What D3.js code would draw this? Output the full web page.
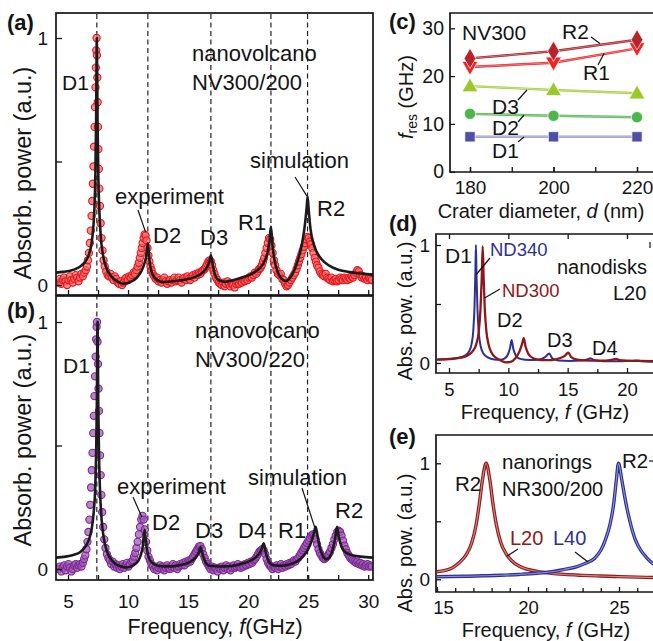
<!DOCTYPE html>
<html><head><meta charset="utf-8">
<script src="https://cdn.jsdelivr.net/npm/d3@7/dist/d3.min.js"></script>
<style>
html,body{margin:0;padding:0;background:#fff;}
svg{display:block;}
</style></head>
<body>
<svg id="fig" width="653" height="641" xmlns="http://www.w3.org/2000/svg"></svg>
<script>
// ================= DATA =================
// (a) nanovolcano NV300/200 : simulation [f GHz, absorbed power]
const simA = [[4.0,0.050],[4.6,0.053],[5.2,0.058],[5.7,0.066],[6.1,0.078],[6.45,0.095],[6.75,0.125],[6.95,0.165],[7.1,0.23],[7.2,0.31],[7.28,0.45],[7.34,0.66],[7.4,1.0],[7.46,0.66],[7.53,0.43],[7.62,0.29],[7.74,0.19],[7.9,0.125],[8.15,0.075],[8.6,0.035],[9.2,0.012],[9.6,0.005],[10.2,0.012],[10.7,0.028],[11.1,0.055],[11.35,0.085],[11.52,0.12],[11.65,0.17],[11.78,0.1],[11.95,0.055],[12.25,0.028],[12.9,0.012],[13.8,0.015],[14.8,0.022],[15.6,0.033],[16.2,0.05],[16.55,0.07],[16.76,0.092],[16.9,0.12],[17.04,0.085],[17.25,0.04],[17.6,0.018],[18.1,0.013],[18.8,0.02],[19.6,0.032],[20.3,0.045],[20.9,0.065],[21.3,0.09],[21.58,0.125],[21.76,0.17],[21.9,0.237],[22.03,0.16],[22.2,0.1],[22.45,0.055],[22.8,0.025],[23.15,0.016],[23.5,0.03],[23.85,0.06],[24.2,0.11],[24.5,0.17],[24.72,0.24],[24.87,0.31],[24.95,0.357],[25.05,0.3],[25.2,0.225],[25.4,0.175],[25.7,0.135],[26.1,0.105],[26.7,0.08],[27.5,0.062],[28.5,0.052],[29.5,0.046],[30.4,0.042]];
// (a) experiment
const expA = [[4.2,0.01],[4.32,0.025],[4.44,0.005],[4.56,0.02],[4.68,0.03],[4.8,0.015],[4.92,0.0],[5.04,0.02],[5.16,0.035],[5.28,0.02],[5.4,0.01],[5.52,0.025],[5.64,0.04],[5.76,0.03],[5.88,0.015],[6.0,0.03],[6.12,0.045],[6.24,0.035],[6.36,0.05],[6.48,0.06],[6.58,0.075],[6.66,0.1],[6.74,0.13],[6.82,0.17],[6.9,0.22],[6.96,0.28],[7.02,0.34],[7.07,0.41],[7.12,0.48],[7.17,0.56],[7.21,0.64],[7.25,0.72],[7.29,0.8],[7.32,0.88],[7.35,0.95],[7.38,1.0],[7.41,0.93],[7.44,0.84],[7.47,0.74],[7.5,0.64],[7.53,0.55],[7.57,0.47],[7.61,0.39],[7.66,0.32],[7.72,0.25],[7.79,0.19],[7.87,0.14],[7.96,0.1],[8.06,0.075],[8.18,0.055],[8.3,0.04],[8.42,0.035],[8.54,0.045],[8.66,0.03],[8.78,0.02],[8.9,0.035],[9.02,0.025],[9.14,0.01],[9.26,0.005],[9.38,0.015],[9.5,0.0],[9.62,0.01],[9.74,0.025],[9.86,0.03],[9.98,0.02],[10.1,0.035],[10.22,0.03],[10.34,0.04],[10.46,0.05],[10.58,0.045],[10.7,0.06],[10.8,0.075],[10.9,0.09],[10.98,0.11],[11.06,0.13],[11.14,0.15],[11.22,0.17],[11.3,0.19],[11.38,0.205],[11.46,0.2],[11.54,0.18],[11.62,0.15],[11.7,0.12],[11.78,0.095],[11.87,0.075],[11.96,0.06],[12.06,0.045],[12.18,0.035],[12.3,0.025],[12.42,0.03],[12.54,0.015],[12.66,0.02],[12.78,0.01],[12.9,0.02],[13.02,0.03],[13.14,0.015],[13.26,0.005],[13.38,0.015],[13.5,0.02],[13.62,0.01],[13.74,0.02],[13.86,0.03],[13.98,0.015],[14.1,0.02],[14.22,0.03],[14.34,0.02],[14.46,0.01],[14.58,0.025],[14.7,0.03],[14.82,0.02],[14.94,0.035],[15.06,0.025],[15.18,0.02],[15.3,0.035],[15.42,0.04],[15.54,0.03],[15.66,0.045],[15.78,0.04],[15.9,0.05],[16.02,0.045],[16.14,0.055],[16.26,0.06],[16.38,0.065],[16.5,0.075],[16.6,0.085],[16.7,0.095],[16.8,0.1],[16.9,0.095],[17.0,0.08],[17.1,0.06],[17.2,0.045],[17.32,0.03],[17.44,0.02],[17.56,0.01],[17.68,0.005],[17.8,0.0],[17.92,0.01],[18.04,-0.005],[18.16,0.005],[18.28,0.015],[18.4,0.005],[18.52,-0.005],[18.64,0.005],[18.76,0.0],[18.88,-0.01],[19.0,0.005],[19.12,0.01],[19.24,0.005],[19.36,0.015],[19.48,0.01],[19.6,0.02],[19.72,0.015],[19.84,0.025],[19.96,0.02],[20.08,0.03],[20.2,0.035],[20.32,0.03],[20.44,0.04],[20.56,0.05],[20.68,0.045],[20.8,0.055],[20.92,0.065],[21.04,0.07],[21.14,0.08],[21.24,0.095],[21.34,0.11],[21.44,0.13],[21.54,0.15],[21.64,0.17],[21.74,0.19],[21.84,0.185],[21.94,0.16],[22.04,0.13],[22.14,0.1],[22.24,0.08],[22.36,0.06],[22.48,0.045],[22.6,0.04],[22.72,0.045],[22.84,0.025],[22.96,0.02],[23.08,0.005],[23.2,-0.005],[23.32,0.0],[23.44,0.01],[23.56,0.02],[23.68,0.03],[23.8,0.04],[23.92,0.05],[24.04,0.065],[24.14,0.08],[24.24,0.095],[24.34,0.11],[24.44,0.125],[24.54,0.14],[24.64,0.155],[24.74,0.17],[24.84,0.185],[24.94,0.195],[25.04,0.19],[25.14,0.175],[25.24,0.165],[25.34,0.15],[25.44,0.13],[25.54,0.11],[25.64,0.095],[25.74,0.08],[25.86,0.07],[25.98,0.055],[26.1,0.045],[26.22,0.04],[26.34,0.035],[26.46,0.045],[26.58,0.03],[26.7,0.025],[26.82,0.02],[26.94,0.03],[27.06,0.015],[27.18,0.02],[27.3,0.025],[27.42,0.015],[27.54,0.02],[27.66,0.03],[27.78,0.025],[27.9,0.02],[28.02,0.03],[28.14,0.025],[28.26,0.02],[28.38,0.03],[28.5,0.025],[28.62,0.035],[28.74,0.03],[28.86,0.04],[28.98,0.05],[29.1,0.06],[29.22,0.055],[29.34,0.04],[29.46,0.03],[29.58,0.035],[29.7,0.025],[29.82,0.03],[29.94,0.02],[30.06,0.03],[30.18,0.025],[30.3,0.02]];
// (b) nanovolcano NV300/220 : simulation
const simB = [[4.0,0.046],[4.8,0.05],[5.5,0.058],[6.0,0.068],[6.4,0.088],[6.75,0.12],[6.98,0.165],[7.14,0.23],[7.26,0.32],[7.34,0.46],[7.4,0.66],[7.46,1.0],[7.52,0.66],[7.59,0.44],[7.68,0.3],[7.8,0.2],[7.98,0.125],[8.25,0.07],[8.7,0.032],[9.3,0.012],[9.9,0.006],[10.4,0.014],[10.8,0.03],[11.05,0.055],[11.22,0.09],[11.38,0.16],[11.52,0.095],[11.7,0.05],[12.0,0.025],[12.6,0.012],[13.5,0.01],[14.4,0.016],[15.1,0.027],[15.6,0.045],[15.88,0.065],[16.06,0.088],[16.2,0.06],[16.42,0.03],[16.8,0.013],[17.6,0.01],[18.6,0.012],[19.5,0.022],[20.3,0.036],[20.8,0.055],[21.1,0.077],[21.3,0.104],[21.48,0.065],[21.72,0.03],[22.1,0.015],[22.8,0.013],[23.5,0.019],[24.1,0.032],[24.6,0.052],[25.0,0.08],[25.3,0.115],[25.5,0.15],[25.62,0.171],[25.76,0.14],[25.95,0.09],[26.2,0.055],[26.5,0.04],[26.8,0.05],[27.05,0.08],[27.25,0.125],[27.4,0.171],[27.55,0.13],[27.78,0.09],[28.1,0.068],[28.6,0.057],[29.4,0.05],[30.4,0.046]];
// (b) experiment
const expB = [[4.2,0.0],[4.32,0.01],[4.44,-0.01],[4.56,0.005],[4.68,0.015],[4.8,-0.005],[4.92,0.01],[5.04,0.02],[5.16,0.005],[5.28,-0.01],[5.4,0.0],[5.52,0.015],[5.64,0.02],[5.76,0.005],[5.88,0.015],[6.0,0.02],[6.12,0.01],[6.24,0.025],[6.34,0.04],[6.44,0.055],[6.54,0.08],[6.62,0.11],[6.7,0.15],[6.78,0.2],[6.85,0.26],[6.92,0.33],[6.98,0.4],[7.04,0.47],[7.1,0.55],[7.15,0.62],[7.2,0.7],[7.25,0.78],[7.3,0.86],[7.34,0.93],[7.38,0.98],[7.42,1.0],[7.46,0.92],[7.5,0.83],[7.54,0.73],[7.58,0.64],[7.62,0.55],[7.67,0.46],[7.72,0.38],[7.78,0.3],[7.85,0.23],[7.93,0.17],[8.02,0.12],[8.12,0.085],[8.24,0.06],[8.36,0.045],[8.48,0.035],[8.6,0.02],[8.72,0.03],[8.84,0.01],[8.96,0.02],[9.08,0.005],[9.2,0.015],[9.32,0.0],[9.44,0.01],[9.56,0.02],[9.68,0.005],[9.8,0.015],[9.92,0.025],[10.04,0.01],[10.16,0.02],[10.28,0.03],[10.4,0.035],[10.5,0.05],[10.6,0.065],[10.7,0.085],[10.8,0.11],[10.9,0.14],[11.0,0.17],[11.1,0.2],[11.2,0.215],[11.3,0.2],[11.4,0.16],[11.5,0.11],[11.6,0.075],[11.7,0.05],[11.82,0.035],[11.94,0.02],[12.06,0.01],[12.18,0.0],[12.3,0.01],[12.42,-0.005],[12.54,0.005],[12.66,0.015],[12.78,0.0],[12.9,0.01],[13.02,-0.005],[13.14,0.005],[13.26,0.015],[13.38,0.005],[13.5,0.0],[13.62,0.01],[13.74,0.02],[13.86,0.005],[13.98,0.015],[14.1,0.0],[14.22,0.01],[14.34,0.02],[14.46,0.015],[14.58,0.025],[14.7,0.015],[14.82,0.03],[14.94,0.025],[15.06,0.035],[15.18,0.03],[15.3,0.04],[15.42,0.05],[15.54,0.06],[15.66,0.07],[15.78,0.08],[15.9,0.09],[16.02,0.093],[16.14,0.08],[16.26,0.06],[16.38,0.045],[16.5,0.03],[16.62,0.02],[16.74,0.01],[16.86,0.0],[16.98,0.01],[17.1,-0.005],[17.22,0.005],[17.34,0.0],[17.46,-0.01],[17.58,0.005],[17.7,0.0],[17.82,0.01],[17.94,-0.005],[18.06,0.005],[18.18,0.015],[18.3,0.0],[18.42,0.01],[18.54,-0.005],[18.66,0.005],[18.78,0.015],[18.9,0.005],[19.02,0.01],[19.14,0.02],[19.26,0.01],[19.38,0.005],[19.5,0.015],[19.62,0.01],[19.74,0.02],[19.86,0.015],[19.98,0.025],[20.1,0.02],[20.22,0.03],[20.34,0.025],[20.46,0.035],[20.58,0.04],[20.7,0.05],[20.82,0.06],[20.94,0.07],[21.06,0.075],[21.18,0.08],[21.3,0.075],[21.42,0.06],[21.54,0.04],[21.66,0.025],[21.78,0.015],[21.9,0.01],[22.02,0.0],[22.14,0.01],[22.26,0.005],[22.38,0.015],[22.5,0.0],[22.62,0.01],[22.74,0.02],[22.86,0.005],[22.98,0.015],[23.1,0.01],[23.22,0.02],[23.34,0.015],[23.46,0.025],[23.58,0.02],[23.7,0.03],[23.82,0.035],[23.94,0.03],[24.06,0.04],[24.18,0.045],[24.3,0.055],[24.42,0.065],[24.54,0.075],[24.66,0.085],[24.78,0.095],[24.9,0.105],[25.02,0.115],[25.14,0.125],[25.26,0.135],[25.38,0.14],[25.5,0.135],[25.62,0.12],[25.74,0.1],[25.86,0.08],[25.98,0.065],[26.1,0.055],[26.22,0.045],[26.34,0.04],[26.46,0.045],[26.58,0.05],[26.7,0.06],[26.82,0.07],[26.94,0.085],[27.06,0.1],[27.18,0.12],[27.3,0.135],[27.42,0.15],[27.54,0.155],[27.66,0.15],[27.78,0.135],[27.9,0.115],[28.02,0.095],[28.14,0.08],[28.26,0.065],[28.38,0.055],[28.5,0.045],[28.62,0.04],[28.74,0.035],[28.86,0.03],[28.98,0.025],[29.1,0.03],[29.22,0.02],[29.34,0.025],[29.46,0.015],[29.58,0.02],[29.7,0.01],[29.82,0.015],[29.94,0.02],[30.06,0.01],[30.18,0.015],[30.3,0.01]];
// dashed guide lines at NV300/200 resonances (GHz)
const modeLines = [7.4, 11.65, 16.9, 21.9, 24.95];
const freqTicksAB = [5, 10, 15, 20, 25, 30];
const freqMinorAB = [7.5, 12.5, 17.5, 22.5, 27.5];

// (c) resonance frequencies vs crater diameter
const crater = [180, 200, 220];
const fD1 = [7.3, 7.3, 7.3];
const fD2 = [12.1, 11.7, 11.4];
const fD3 = [17.9, 17.1, 16.4];
const fR1 = [21.9, 22.8, 25.8];
const fR2 = [23.7, 25.2, 27.6];
const craterTicks = [180, 190, 200, 210, 220];
const craterLabels = [180, 200, 220];
const fresTicks = [0, 10, 20, 30];

// (d) nanodisks L20
const nd340 = [[4.0,0.03],[5.0,0.035],[5.8,0.045],[6.3,0.06],[6.7,0.1],[6.9,0.16],[7.05,0.28],[7.15,0.48],[7.22,0.75],[7.27,1.0],[7.32,0.75],[7.4,0.45],[7.5,0.27],[7.65,0.15],[7.9,0.08],[8.3,0.045],[8.8,0.03],[9.3,0.028],[9.7,0.04],[9.95,0.07],[10.15,0.13],[10.28,0.195],[10.42,0.12],[10.65,0.06],[11.0,0.035],[11.8,0.025],[12.6,0.03],[13.1,0.05],[13.45,0.08],[13.7,0.04],[14.2,0.022],[15.2,0.018],[16.2,0.022],[16.7,0.032],[16.9,0.04],[17.2,0.025],[18.0,0.015],[19.5,0.014],[20.4,0.018],[20.8,0.022],[21.2,0.015],[22.5,0.01]];
const nd300 = [[4.0,0.028],[5.0,0.032],[6.0,0.045],[6.6,0.065],[7.0,0.1],[7.3,0.16],[7.5,0.26],[7.65,0.45],[7.76,0.72],[7.84,0.99],[7.92,0.72],[8.02,0.45],[8.15,0.27],[8.35,0.15],[8.6,0.085],[8.95,0.045],[9.4,0.02],[9.8,0.005],[10.2,0.01],[10.6,0.04],[10.95,0.1],[11.15,0.16],[11.3,0.21],[11.45,0.14],[11.7,0.075],[12.1,0.04],[12.8,0.025],[13.6,0.025],[14.3,0.04],[14.75,0.06],[15.05,0.087],[15.3,0.05],[15.8,0.028],[16.8,0.02],[17.8,0.02],[18.6,0.025],[18.9,0.03],[19.1,0.035],[19.35,0.025],[20.0,0.02],[21.0,0.018],[22.5,0.015]];
const freqTicksD = [5, 10, 15, 20];
const freqMinorD = [7.5, 12.5, 17.5];

// (e) nanorings NR300/200
const ringL20 = [[15.0,0.065],[15.4,0.075],[15.8,0.095],[16.2,0.14],[16.6,0.21],[16.9,0.31],[17.15,0.47],[17.35,0.68],[17.5,0.86],[17.7,1.0],[17.9,0.86],[18.05,0.68],[18.25,0.48],[18.5,0.32],[18.8,0.22],[19.1,0.16],[19.5,0.115],[20.0,0.085],[20.5,0.068],[21.2,0.053],[22.0,0.042],[23.0,0.034],[24.0,0.028],[25.0,0.023],[26.0,0.019],[27.0,0.015]];
const ringL40 = [[15.0,0.022],[16.5,0.026],[17.5,0.03],[18.5,0.035],[19.5,0.042],[20.5,0.052],[21.3,0.065],[22.0,0.085],[22.7,0.11],[23.2,0.14],[23.65,0.18],[24.0,0.25],[24.25,0.34],[24.5,0.47],[24.7,0.64],[24.85,0.85],[24.97,1.0],[25.15,0.86],[25.35,0.68],[25.6,0.5],[25.9,0.34],[26.2,0.25],[26.5,0.19],[26.9,0.13]];
const freqTicksE = [15, 20, 25];
const freqMinorE = [16, 17, 18, 19, 21, 22, 23, 24, 26];
const powTicks = [0, 0.5, 1];

// ================= DRAWING =================
const FONT = '"Liberation Sans", Arial, Helvetica, sans-serif';
const INK = '#141414';
const svg = d3.select('#fig').attr('font-family', FONT);
const defs = svg.append('defs');

function clip(id, x0, y0, x1, y1) {
  defs.append('clipPath').attr('id', id).append('rect')
    .attr('x', x0).attr('y', y0).attr('width', x1 - x0).attr('height', y1 - y0);
  return `url(#${id})`;
}
function label(x, y, s, fs, o = {}) {
  const t = svg.append('text').attr('x', x).attr('y', y).attr('font-size', fs)
    .attr('fill', o.fill || INK).text(s);
  if (o.anchor) t.attr('text-anchor', o.anchor);
  if (o.bold) t.attr('font-weight', 'bold');
  return t;
}
function leader(x1, y1, x2, y2, color) {
  svg.append('line').attr('x1', x1).attr('y1', y1).attr('x2', x2).attr('y2', y2)
    .attr('stroke', color || INK).attr('stroke-width', 1.2);
}
function frame(x0, y0, x1, y1) {
  svg.append('rect').attr('x', x0).attr('y', y0).attr('width', x1 - x0).attr('height', y1 - y0)
    .attr('fill', 'none').attr('stroke', INK).attr('stroke-width', 1.7);
}
function xAxis(scale, y, values, len, fs, pad, fmt, top) {
  const ax = (top ? d3.axisTop(scale) : d3.axisBottom(scale)).tickValues(values)
    .tickSizeInner(-len).tickSizeOuter(0).tickPadding(pad).tickFormat(fmt || (() => ''));
  const g = svg.append('g').attr('transform', `translate(0,${y})`).call(ax);
  g.select('.domain').remove();
  g.attr('font-family', FONT).attr('font-size', fs);
  g.selectAll('line').attr('stroke', INK).attr('stroke-width', 1.3);
  g.selectAll('text').attr('fill', INK);
  return g;
}
function yAxis(scale, x, values, len, fs, pad, fmt) {
  const ax = d3.axisLeft(scale).tickValues(values).tickSizeInner(-len).tickSizeOuter(0)
    .tickPadding(pad).tickFormat(fmt || (() => ''));
  const g = svg.append('g').attr('transform', `translate(${x},0)`).call(ax);
  g.select('.domain').remove();
  g.attr('font-family', FONT).attr('font-size', fs);
  g.selectAll('line').attr('stroke', INK).attr('stroke-width', 1.3);
  g.selectAll('text').attr('fill', INK);
  return g;
}
function rotTitle(x, y, fs) {
  return svg.append('text').attr('transform', `translate(${x},${y}) rotate(-90)`)
    .attr('text-anchor', 'middle').attr('font-size', fs).attr('fill', INK);
}
function freqTitle(cx, y, fs, gap) {
  const t = svg.append('text').attr('x', cx).attr('y', y).attr('text-anchor', 'middle')
    .attr('font-size', fs).attr('fill', INK);
  t.append('tspan').text('Frequency, ');
  t.append('tspan').attr('font-style', 'italic').text('f');
  t.append('tspan').text(gap ? ' (GHz)' : '(GHz)');
}
const fmtInt = d => d3.format('d')(d);
const fmtPow = d => (d === 0.5 ? '' : d3.format('d')(d));

// ---------- panels (a) & (b) ----------
const AX0 = 56, AX1 = 373;
const xAB = d3.scaleLinear().domain([4, 30.4]).range([AX0, AX1]);
const yA = d3.scaleLinear().domain([0, 1]).range([285, 38]);
const yB = d3.scaleLinear().domain([0, 1]).range([569, 322]);
const clipA = clip('cA', AX0, 13, AX1, 295);
const clipB = clip('cB', AX0, 296, AX1, 580);

// dashed guide lines through both panels
svg.append('g').selectAll('line').data(modeLines).join('line')
  .attr('x1', d => xAB(d)).attr('x2', d => xAB(d)).attr('y1', 14).attr('y2', 579)
  .attr('stroke', '#222').attr('stroke-width', 1.2).attr('stroke-dasharray', '5,3.5');

function spectrum(exp, sim, y, clipUrl, fill, edge) {
  const g = svg.append('g').attr('clip-path', clipUrl);
  g.selectAll('circle').data(exp).join('circle')
    .attr('cx', d => xAB(d[0])).attr('cy', d => y(d[1])).attr('r', 3.6)
    .attr('fill', fill).attr('fill-opacity', 0.75).attr('stroke', edge).attr('stroke-width', 1.1);
  g.append('path').datum(sim)
    .attr('d', d3.line().x(d => xAB(d[0])).y(d => y(d[1])).curve(d3.curveMonotoneX))
    .attr('fill', 'none').attr('stroke', '#1b1b1b').attr('stroke-width', 2.6);
}
spectrum(expA, simA, yA, clipA, '#f36b6b', '#e2161c');
spectrum(expB, simB, yB, clipB, '#a65cb8', '#7a2a92');

frame(AX0, 13, AX1, 295);
frame(AX0, 296, AX1, 580);
xAxis(xAB, 295, freqTicksAB.concat(freqMinorAB), 5, 19, 0);
xAxis(xAB, 580, freqMinorAB, 5, 19, 0);
xAxis(xAB, 580, freqTicksAB, 5, 19, 15, fmtInt);
yAxis(yA, AX0, powTicks, 6, 19, 8, fmtPow);
yAxis(yB, AX0, powTicks, 6, 19, 8, fmtPow);

rotTitle(31, 173, 23.5).text('Absorb. power (a.u.)');
rotTitle(31, 440, 23.5).text('Absorb. power (a.u.)');
freqTitle(215, 634, 21.5, false);

label(7, 30, '(a)', 22, { bold: true });
label(7, 318, '(b)', 22, { bold: true });

// annotations (a)
label(62, 90, 'D1', 21);
label(192, 61, 'nanovolcano', 22);
label(192, 90, 'NV300/200', 22);
label(115, 204, 'experiment', 22);
leader(138, 210, xAB(11.45), yA(0.215));
label(153, 243, 'D2', 22);
label(200, 245, 'D3', 22);
label(238, 230, 'R1', 22);
label(250, 168, 'simulation', 22);
leader(295, 177, xAB(24.9), yA(0.36));
label(317, 216, 'R2', 22);

// annotations (b)
label(63, 373, 'D1', 21);
label(195, 338, 'nanovolcano', 22);
label(195, 367, 'NV300/220', 22);
label(117, 494, 'experiment', 22);
leader(133, 497, xAB(11.15), yB(0.21));
label(152, 530, 'D2', 22);
label(195, 538, 'D3', 22);
label(238, 538, 'D4', 22);
label(278, 538, 'R1', 22);
label(248, 485, 'simulation', 22);
leader(302, 488, xAB(25.55), yB(0.168));
label(335, 518, 'R2', 22);

// ---------- panel (c) ----------
const xC = d3.scaleLinear().domain([180, 220]).range([470, 637]);
const yC = d3.scaleLinear().domain([0, 30]).range([171.7, 28.3]);
const CX0 = 450, CY0 = 13, CY1 = 172;
svg.append('path').attr('d', `M660,${CY0}H${CX0}V${CY1}H660`).attr('fill', 'none')
  .attr('stroke', INK).attr('stroke-width', 1.7);
xAxis(xC, CY1, craterTicks, 5, 18.5, 0);
xAxis(xC, CY1, craterLabels, 5, 19, 9, fmtInt);
yAxis(yC, CX0, fresTicks, 5, 19.5, 6, fmtInt);

const seriesC = [
  { v: fD1, col: '#4f4fa6', line: '#9c9cd4', sym: d3.symbolSquare, size: 105, rot: 0 },
  { v: fD2, col: '#4cb54c', line: '#55b855', sym: d3.symbolCircle, size: 100, rot: 0 },
  { v: fD3, col: '#9bc92a', line: '#a6cf45', sym: d3.symbolTriangle, size: 110, rot: 0 },
  { v: fR1, col: '#ee2424', line: '#ee2a2a', sym: d3.symbolTriangle, size: 110, rot: 180 },
  { v: fR2, col: '#b8222a', line: '#b0222a', sym: d3.symbolDiamond, size: 120, rot: 0 },
];
seriesC.forEach(s => {
  const pts = crater.map((d, i) => [d, s.v[i]]);
  const ln = d3.line().x(d => xC(d[0])).y(d => yC(d[1]));
  svg.append('path').datum(pts).attr('d', ln).attr('fill', 'none')
    .attr('stroke', s.line).attr('stroke-width', 2.4);
  svg.append('path').datum(pts).attr('d', ln).attr('fill', 'none')
    .attr('stroke', '#ffffff').attr('stroke-opacity', 0.45).attr('stroke-width', 0.8);
  svg.append('g').selectAll('path').data(pts).join('path')
    .attr('d', d3.symbol().type(s.sym).size(s.size))
    .attr('transform', d => `translate(${xC(d[0])},${yC(d[1]) + (s.rot ? -1 : (s.sym === d3.symbolTriangle ? 1 : 0))}) rotate(${s.rot})`)
    .attr('fill', s.col).attr('stroke', '#fff').attr('stroke-width', 0.7);
});
label(389, 29, '(c)', 22, { bold: true });
label(462, 40, 'NV300', 21);
label(562, 39, 'R2', 21);
leader(591, 37, 600, 43.5);
label(583, 80, 'R1', 21);
leader(598, 65, 604, 53.5);
label(492, 114, 'D3', 21);
leader(518, 100, 527, 90);
label(492, 135, 'D2', 21);
leader(518, 122, 524, 115);
label(492, 158, 'D1', 21);
leader(518, 142, 524, 137);
{
  const t = rotTitle(413, 97, 20);
  t.append('tspan').attr('font-style', 'italic').text('f');
  t.append('tspan').attr('font-size', 14).attr('dy', 4).text('res');
  t.append('tspan').attr('dy', -4).text(' (GHz)');
}
{
  const t = svg.append('text').attr('x', 541).attr('y', 217.5).attr('text-anchor', 'middle')
    .attr('font-size', 20).attr('fill', INK);
  t.append('tspan').text('Crater diameter,  ');
  t.append('tspan').attr('font-style', 'italic').text('d');
  t.append('tspan').text(' (nm)');
}

// ---------- panel (d) ----------
const xD = d3.scaleLinear().domain([5, 20]).range([449, 627]);
const yD = d3.scaleLinear().domain([0, 1]).range([363, 245]);
const DX0 = 436, DY0 = 234, DY1 = 373;
const clipD = clip('cD', DX0, DY0, 660, DY1);
const lineD = d3.line().x(d => xD(d[0])).y(d => yD(d[1])).curve(d3.curveMonotoneX);
const gD = svg.append('g').attr('clip-path', clipD);
gD.append('path').datum(nd340).attr('d', lineD).attr('fill', 'none').attr('stroke', '#2f3192').attr('stroke-width', 2);
gD.append('path').datum(nd300).attr('d', lineD).attr('fill', 'none').attr('stroke', '#8e1717').attr('stroke-width', 2.3);
svg.append('path').attr('d', `M660,${DY0}H${DX0}V${DY1}H660`).attr('fill', 'none')
  .attr('stroke', INK).attr('stroke-width', 1.7);
xAxis(xD, DY1, freqMinorD, 4, 18.5, 0);
xAxis(xD, DY1, freqTicksD, 5, 18.5, 10, fmtInt);
xAxis(xD, DY0, freqTicksD, 5, 19, 0, null, true);
yAxis(yD, DX0, powTicks, 5, 19, 6, fmtPow);
rotTitle(412, 311, 20).text('Abs. pow. (a.u.)');
freqTitle(545, 419, 20, true);
label(389, 231, '(d)', 22, { bold: true });
label(445, 263, 'D1', 21);
label(490, 256, 'ND340', 18.5, { fill: '#2f3192' });
leader(490, 258, xD(7.3), yD(0.75));
label(502, 297, 'ND300', 18.5, { fill: '#8e1717' });
leader(500, 289, xD(8.0), yD(0.55));
label(557, 274, 'nanodisks', 20);
label(613, 300, 'L20', 20);
label(497, 327, 'D2', 20);
label(547, 347, 'D3', 20);
label(592, 355, 'D4', 20);
svg.append('line').attr('x1', 650).attr('x2', 650).attr('y1', 242).attr('y2', 248).attr('stroke', INK).attr('stroke-width', 1.2);

// ---------- panel (e) ----------
const xE = d3.scaleLinear().domain([15, 25]).range([437, 619]);
const yE = d3.scaleLinear().domain([0, 1]).range([579.3, 463.3]);
const EX0 = 436, EY0 = 435, EY1 = 592;
const clipE = clip('cE', EX0, EY0, 660, EY1);
const lineE = d3.line().x(d => xE(d[0])).y(d => yE(d[1])).curve(d3.curveMonotoneX);
const gE = svg.append('g').attr('clip-path', clipE);
[[ringL20, '#8e1a1a', '#d98a8a'], [ringL40, '#2f3192', '#8f92d6']].forEach(([data, dark, light]) => {
  gE.append('path').datum(data).attr('d', lineE).attr('fill', 'none').attr('stroke', dark).attr('stroke-width', 3.4);
  gE.append('path').datum(data).attr('d', lineE).attr('fill', 'none').attr('stroke', light).attr('stroke-width', 1.1);
});
svg.append('path').attr('d', `M660,${EY0}H${EX0}V${EY1}H660`).attr('fill', 'none')
  .attr('stroke', INK).attr('stroke-width', 1.7);
xAxis(xE, EY1, freqMinorE, 4, 18, 0);
const gEx = xAxis(xE, EY1, freqTicksE, 5, 18.5, 9, fmtInt);
gEx.selectAll('text').filter(d => d === 15).attr('dx', 6);
yAxis(yE, EX0, powTicks, 5, 19, 6, fmtPow);
rotTitle(412, 543, 20).text('Abs. pow. (a.u.)');
freqTitle(546, 636.5, 20, true);
label(389, 444, '(e)', 22, { bold: true });
label(455, 491, 'R2', 20.5);
label(502, 469, 'nanorings', 20.5);
label(502, 496, 'NR300/200', 20);
label(622, 468, 'R2', 20.5);
leader(649, 461, 656, 461);
label(510, 545, 'L20', 20, { fill: '#8e1a1a' });
leader(518, 549, xE(18.85), yE(0.2));
label(553, 545, 'L40', 20, { fill: '#2f3192' });
leader(575, 552, xE(23.3), yE(0.15));
</script>
</body></html>
